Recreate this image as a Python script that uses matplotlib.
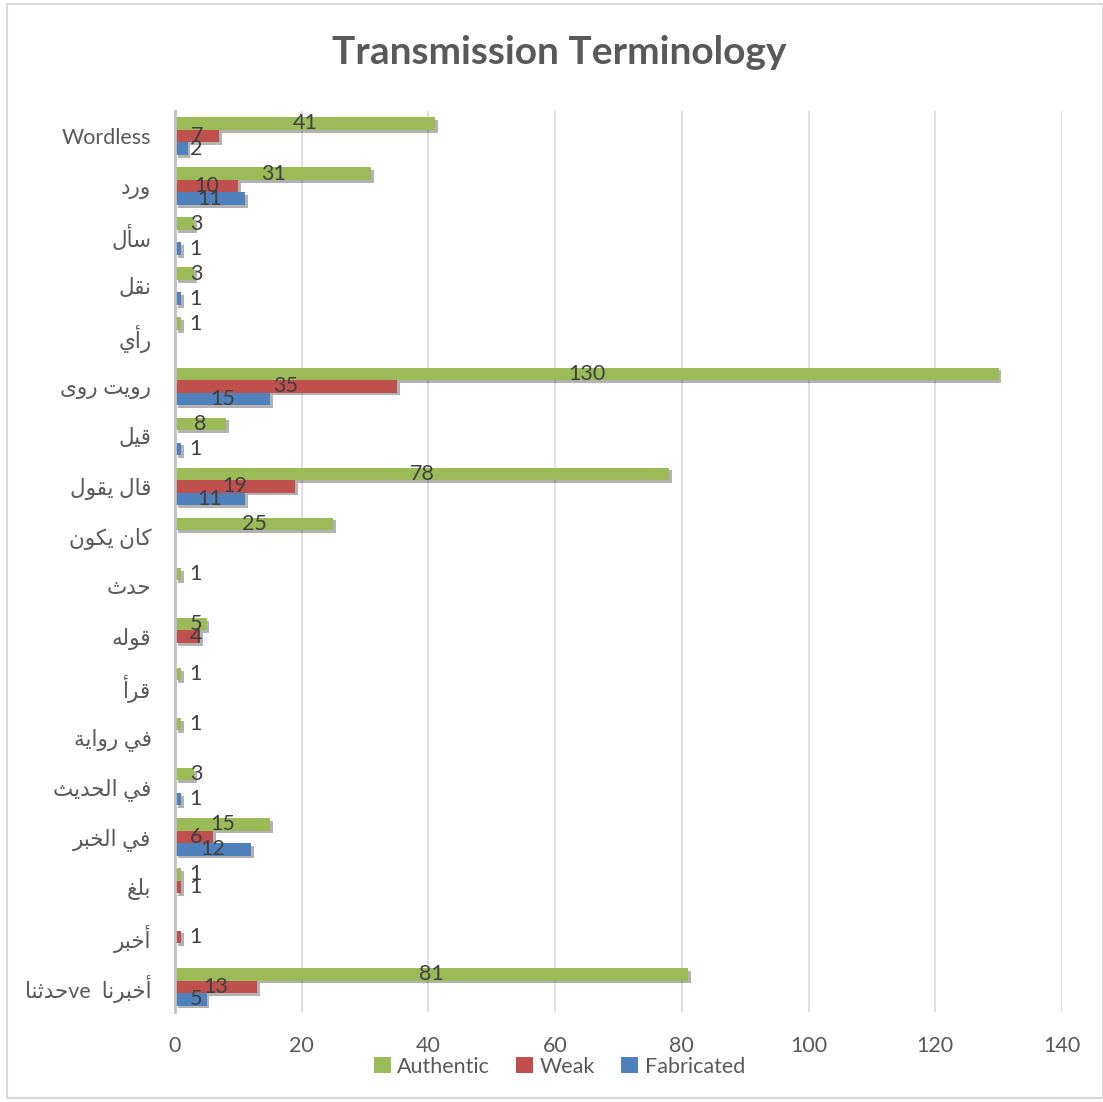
import matplotlib
matplotlib.use("Agg")
import matplotlib.pyplot as plt
import matplotlib.patheffects as pe
from matplotlib.patches import Patch, Rectangle
import numpy as np

# 分类（从上到下）
categories = ["Wordless", "ورد", "سأل", "نقل", "رأي", "رويت روى", "قيل", "قال يقول",
              "كان يكون", "حدث", "قوله", "قرأ", "في رواية", "في الحديث", "في الخبر",
              "بلغ", "أخبر", "أخبرنا  veحدثنا"]

authentic = [41, 31, 3, 3, 1, 130, 8, 78, 25, 1, 5, 1, 1, 3, 15, 1, 0, 81]
weak = [7, 10, 0, 0, 0, 35, 0, 19, 0, 0, 4, 0, 0, 0, 6, 1, 1, 13]
fabricated = [2, 11, 1, 1, 0, 15, 1, 11, 0, 0, 0, 0, 0, 1, 12, 0, 0, 5]

series_names = ["Authentic", "Weak", "Fabricated"]
colors = ["#9BBB59", "#C0504D", "#4F81BD"]

# 阿拉伯字母的表现形式: (独立, 词尾, 词首, 词中)
FORMS = {
    "ا": (0xFE8D, 0xFE8E, None, None),
    "أ": (0xFE83, 0xFE84, None, None),
    "ب": (0xFE8F, 0xFE90, 0xFE91, 0xFE92),
    "ة": (0xFE93, 0xFE94, None, None),
    "ت": (0xFE95, 0xFE96, 0xFE97, 0xFE98),
    "ث": (0xFE99, 0xFE9A, 0xFE9B, 0xFE9C),
    "ح": (0xFEA1, 0xFEA2, 0xFEA3, 0xFEA4),
    "خ": (0xFEA5, 0xFEA6, 0xFEA7, 0xFEA8),
    "د": (0xFEA9, 0xFEAA, None, None),
    "ر": (0xFEAD, 0xFEAE, None, None),
    "س": (0xFEB1, 0xFEB2, 0xFEB3, 0xFEB4),
    "غ": (0xFECD, 0xFECE, 0xFECF, 0xFED0),
    "ف": (0xFED1, 0xFED2, 0xFED3, 0xFED4),
    "ق": (0xFED5, 0xFED6, 0xFED7, 0xFED8),
    "ك": (0xFED9, 0xFEDA, 0xFEDB, 0xFEDC),
    "ل": (0xFEDD, 0xFEDE, 0xFEDF, 0xFEE0),
    "ن": (0xFEE5, 0xFEE6, 0xFEE7, 0xFEE8),
    "ه": (0xFEE9, 0xFEEA, 0xFEEB, 0xFEEC),
    "و": (0xFEED, 0xFEEE, None, None),
    "ى": (0xFEEF, 0xFEF0, None, None),
    "ي": (0xFEF1, 0xFEF2, 0xFEF3, 0xFEF4),
}


def shape_word(word):
    """连接形式 + 反转，matplotlib 不做阿拉伯文整形"""
    out = []
    for i, ch in enumerate(word):
        if ch not in FORMS:
            out.append(ch)
            continue
        prev = word[i - 1] if i > 0 else None
        nxt = word[i + 1] if i + 1 < len(word) else None
        join_prev = prev in FORMS and FORMS[prev][2] is not None
        join_next = FORMS[ch][2] is not None and nxt in FORMS
        iso, fin, ini, med = FORMS[ch]
        if join_prev and join_next:
            code = med
        elif join_prev:
            code = fin
        elif join_next:
            code = ini
        else:
            code = iso
        out.append(chr(code))
    return "".join(out[::-1])


def char_kind(ch):
    if ch in FORMS:
        return "ar"
    if ch == " ":
        return "sp"
    return "lat"


def rtl(text):
    """简单的双向排版：按 阿拉伯/空格/拉丁 分段，段顺序反转"""
    if not any(ch in FORMS for ch in text):
        return text
    runs = []
    for ch in text:
        k = char_kind(ch)
        if runs and runs[-1][0] == k:
            runs[-1][1] += ch
        else:
            runs.append([k, ch])
    parts = [shape_word(t) if k == "ar" else t for k, t in runs]
    return "".join(parts[::-1])


plt.rcParams['font.family'] = ['Lato', 'DejaVu Sans']
text_color = "#595959"

fig = plt.figure(figsize=(11.03, 11.02), dpi=100)
ax = fig.add_axes([0.1587, 0.0817, 0.8041, 0.8176])

y = np.arange(len(categories))
h = 0.25
shadow = [pe.SimplePatchShadow(offset=(2, -2), shadow_rgbFace="#000000", alpha=0.3), pe.Normal()]
for k, (vals, c) in enumerate(zip([authentic, weak, fabricated], colors)):
    pos = y + (k - 1) * h
    bars = ax.barh(pos, vals, height=h, color=c, zorder=3)
    for b, v in zip(bars, vals):
        if v == 0:
            b.set_visible(False)
            continue
        b.set_path_effects(shadow)
        ax.text(max(v / 2, 3.3), b.get_y() + h / 2, str(v), ha="center", va="center",
                fontsize=15.5, color="#404040", zorder=5)

ax.set_xlim(0, 140)
ax.set_ylim(len(categories) - 0.5, -0.5)
ax.set_xticks(np.arange(0, 141, 20))
ax.set_yticks(y)
ax.set_yticklabels([rtl(c) for c in categories])
ax.tick_params(axis="both", length=0, labelsize=15.5, labelcolor=text_color)
ax.tick_params(axis="x", pad=17)
ax.tick_params(axis="y", pad=17)
ax.grid(axis="x", color="#D9D9D9", linewidth=1.2, zorder=0)
for s in ["top", "right", "bottom"]:
    ax.spines[s].set_visible(False)
ax.spines["left"].set_color("#BFBFBF")
ax.spines["left"].set_linewidth(2)
ax.spines["left"].set_zorder(4)

fig.text(0.507, 0.952, "Transmission Terminology", ha="center", va="center",
         fontsize=28, fontweight="bold", color=text_color)

handles = [Patch(facecolor=c, label=n) for c, n in zip(colors, series_names)]
fig.legend(handles=handles, loc="center", bbox_to_anchor=(0.507, 0.032), ncol=3,
           frameon=False, fontsize=15.5, labelcolor=text_color, handlelength=0.8,
           handleheight=0.8, handletextpad=0.3, columnspacing=1.2)

fig.patches.append(Rectangle((0.006, 0.004), 0.994, 0.992, transform=fig.transFigure,
                             fill=False, edgecolor="#D9D9D9", linewidth=1.5))

plt.savefig("out.png", dpi=100)
